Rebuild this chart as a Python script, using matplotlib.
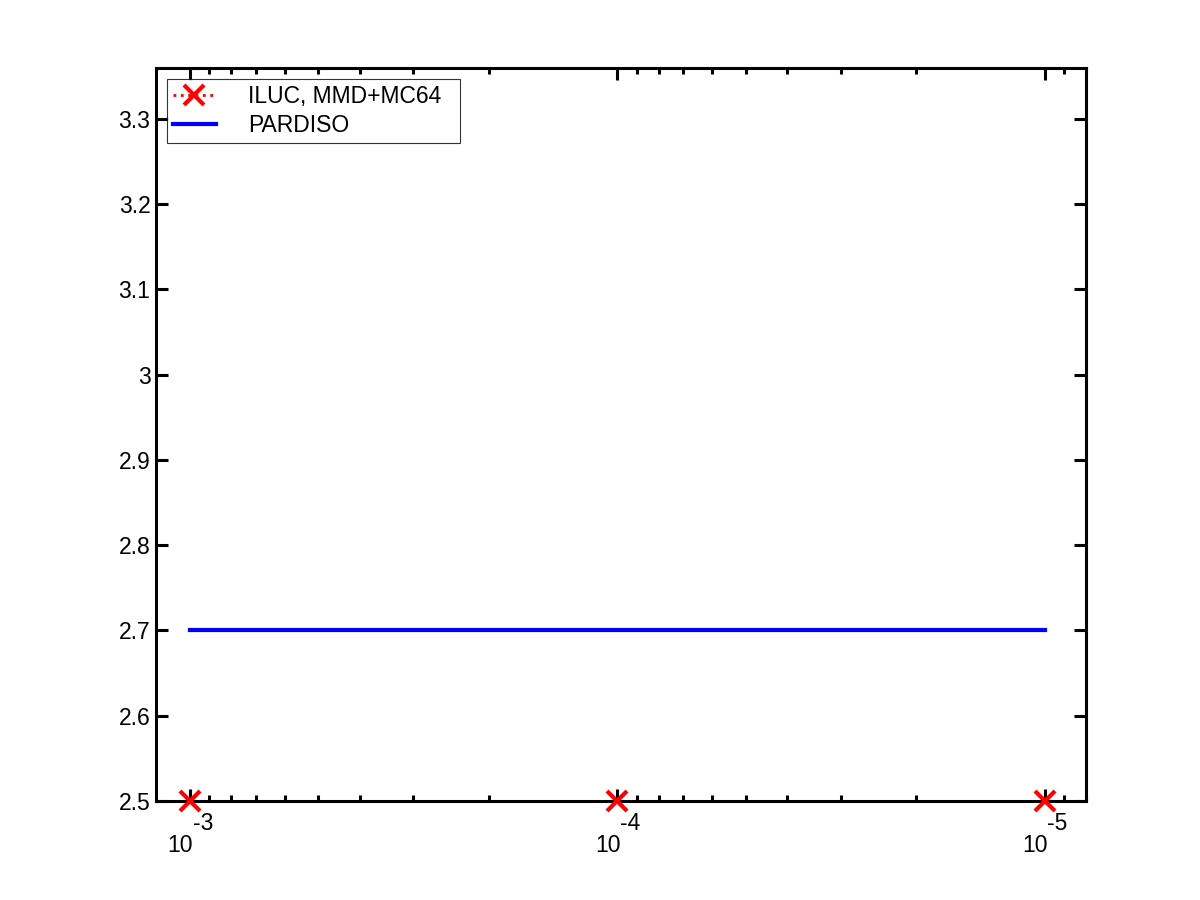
import matplotlib
matplotlib.use("Agg")
import matplotlib.pyplot as plt
from matplotlib.lines import Line2D
from matplotlib.ticker import LogLocator, FixedLocator, NullFormatter
import matplotlib.transforms as mtransforms

plt.rcParams['font.family'] = ['Liberation Sans', 'DejaVu Sans']

# Data
tolerances = [1e-3, 1e-4, 1e-5]
iluc_vals = [2.5, 2.5, 2.5]
pardiso_vals = [2.7, 2.7, 2.7]
xtick_exps = ['-3', '-4', '-5']
yticks = [2.5, 2.6, 2.7, 2.8, 2.9, 3.0, 3.1, 3.2, 3.3]
ytick_labels = ['2.5', '2.6', '2.7', '2.8', '2.9', '3', '3.1', '3.2', '3.3']
legend_labels = ['ILUC, MMD+MC64', 'PARDISO']

FS = 16.5

fig = plt.figure(figsize=(12, 9), dpi=100)
ax = fig.add_axes([0.13, 0.11, 0.775, 0.815])

# ILUC line (dotted) under axes, markers on top
ax.plot(tolerances, iluc_vals, color='red', linestyle=':', linewidth=2, zorder=1)
ax.plot(tolerances, iluc_vals, color='red', linestyle='none', marker='x',
        markersize=14, markeredgewidth=3, clip_on=False, zorder=5)
ax.plot(tolerances, pardiso_vals, color=(0, 0, 1), linewidth=3, zorder=2)

ax.set_xscale('log')
ax.set_xlim(1.2e-3, 8e-6)
ax.set_ylim(2.5, 3.36)

for s in ax.spines.values():
    s.set_linewidth(2.2)
    s.set_zorder(3)

ax.xaxis.set_major_locator(FixedLocator(tolerances))
ax.xaxis.set_minor_locator(LogLocator(base=10, subs=range(2, 10)))
ax.xaxis.set_major_formatter(NullFormatter())
ax.xaxis.set_minor_formatter(NullFormatter())
ax.set_yticks(yticks)
ax.set_yticklabels(ytick_labels)

ax.tick_params(which='both', direction='in', top=True, right=True, width=2.2, color='black')
ax.tick_params(which='major', length=8.5, labelsize=FS, pad=4)
ax.tick_params(which='minor', length=4)

# MATLAB-style exponent labels
trans = mtransforms.blended_transform_factory(ax.transData, ax.transAxes)
for xv, e in zip(tolerances, xtick_exps):
    t1 = mtransforms.offset_copy(trans, fig=fig, x=-9.5, y=-45, units='dots')
    ax.text(xv, 0, '10', transform=t1, ha='center', va='center', fontsize=FS, clip_on=False)
    t2 = mtransforms.offset_copy(trans, fig=fig, x=13, y=-22, units='dots')
    ax.text(xv, 0, e, transform=t2, ha='center', va='center', fontsize=FS, clip_on=False)

handles = [
    Line2D([], [], color='red', linestyle=':', linewidth=2, marker='x', markersize=14, markeredgewidth=3),
    Line2D([], [], color=(0, 0, 1), linewidth=3),
]
leg = ax.legend(handles, [legend_labels[0] + '  ', legend_labels[1]], loc='upper left', fontsize=FS,
                frameon=True, fancybox=False, borderaxespad=0.5, handlelength=1.85,
                handletextpad=1.42, borderpad=0.25, labelspacing=0.27)
leg.get_frame().set_edgecolor('black')
leg.get_frame().set_linewidth(0.8)

fig.savefig('out.png', dpi=100, facecolor='white')
